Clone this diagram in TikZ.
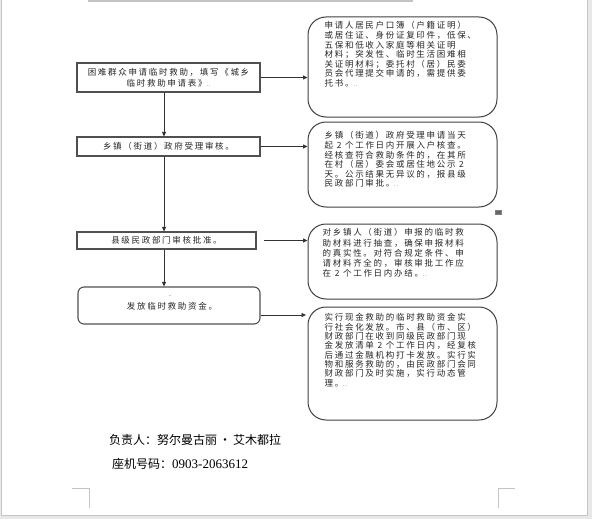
\documentclass[tikz,border=0pt]{standalone}
\usepackage{fontspec}
\setmainfont{Liberation Serif}
\newfontfamily\cjk{Noto Sans CJK SC}
\newfontfamily\cjkls[LetterSpace=20]{Noto Sans CJK SC}
\newfontfamily\digitfont{Liberation Serif}
\usetikzlibrary{arrows.meta}
\definecolor{pagegrey}{HTML}{E8E8E8}
\definecolor{bordergrey}{HTML}{C4C4C4}
\definecolor{boxc}{HTML}{505050}
\definecolor{rboxc}{HTML}{404040}
\definecolor{linec}{HTML}{333333}
\definecolor{txt}{HTML}{262626}
\tikzset{
  lbox/.style={draw=boxc, line width=1.1pt, fill=white, inner sep=0pt, align=center, text=txt,
    font=\cjkls\fontsize{8.5}{11}\selectfont},
  rbox/.style={draw=rboxc, line width=1pt, rounded corners=18pt, inner sep=0pt, fill=white},
  rtext/.style={anchor=north west, inner sep=0pt, align=left, text=txt,
    font=\cjkls\fontsize{8.5}{9.6}\selectfont},
  arr/.style={draw=linec, line width=0.8pt, -{Triangle[length=4.5pt,width=4pt]}},
  tinydots/.style={inner sep=0pt, text=txt, font=\fontsize{5}{5}\selectfont},
  foot/.style={anchor=west, inner sep=0pt, text=black, font=\cjk\fontsize{12}{14}\selectfont},
}
\begin{document}
\begin{tikzpicture}[x=1pt,y=-1pt]
\useasboundingbox (0,0) rectangle (592,519);
% page
\fill[pagegrey] (0,0) rectangle (592,519);
\fill[white] (1.5,0) rectangle (587.5,515.5);
\draw[bordergrey, line width=1pt] (1.5,0) -- (1.5,515.5) -- (587.5,515.5) -- (587.5,0);
\draw[bordergrey, line width=1.5pt] (88,1) -- (413,1);
\draw[bordergrey, line width=0.8pt] (72,488) -- (89,488) -- (89,508);
\draw[bordergrey, line width=0.8pt] (515,488) -- (498,488) -- (498,508);
\coordinate (vx) at (164,0);

% left boxes
\node[lbox, minimum width=183pt, minimum height=29pt] (b1) at (168.5,77.5)
  {困难群众申请临时救助，填写《城乡\\临时救助申请表》{\fontsize{5}{5}\selectfont ..}};
\node[lbox, minimum width=183pt, minimum height=19pt] (b2) at (168.5,146.5)
  {乡镇（街道）政府受理审核。};
\node[lbox, minimum width=179pt, minimum height=17pt] (b3) at (166.5,240.5)
  {县级民政部门审核批准。};
\node[lbox, rounded corners=6pt, minimum width=182pt, minimum height=37pt] (b4) at (169,305.5)
  {};
\node[inner sep=0pt, text=txt, font=\cjkls\fontsize{8.5}{10}\selectfont] (t4) at (172,306) {发放临时救助资金。};
\node[tinydots] (d4) at (170,296) {..};

% right boxes
\node[rbox, minimum width=189pt, minimum height=100pt] (b5) at (402.5,67) {};
\node[rbox, minimum width=189pt, minimum height=85pt] (b6) at (402.5,164.5) {};
\node[rbox, minimum width=189pt, minimum height=75pt] (b7) at (402.5,261.5) {};
\node[rbox, minimum width=189pt, minimum height=113pt] (b8) at (402.5,363.5) {};

\node[rtext] (t5) at ([shift={(17,5)}]b5.north west)
  {申请人居民户口簿（户籍证明）\\或居住证、身份证复印件，低保、\\五保和低收入家庭等相关证明\\材料；突发性、临时生活困难相\\关证明材料；委托村（居）民委\\员会代理提交申请的，需提供委\\托书。{\fontsize{5}{5}\selectfont ..}};
\node[rtext] (t6) at ([shift={(17,10)}]b6.north west)
  {乡镇（街道）政府受理申请当天\\起 2 个工作日内开展入户核查。\\经核查符合救助条件的，在其所\\在村（居）委会或居住地公示 2\\天。公示结果无异议的，报县级\\民政部门审批。{\fontsize{5}{5}\selectfont ..}};
\node[rtext, font=\cjkls\fontsize{8.5}{10.2}\selectfont] (t7) at ([shift={(15,5)}]b7.north west)
  {对乡镇人（街道）申报的临时救\\助材料进行抽查，确保申报材料\\的真实性。对符合规定条件、申\\请材料齐全的，审核审批工作应\\在 2 个工作日内办结。{\fontsize{5}{5}\selectfont ..}};
\node[rtext, font=\cjkls\fontsize{8.5}{9.3}\selectfont] (t8) at ([shift={(17,7)}]b8.north west)
  {实行现金救助的临时救助资金实\\行社会化发放。市、县（市、区）\\财政部门在收到同级民政部门现\\金发放清单 2 个工作日内，经复核\\后通过金融机构打卡发放。实行实\\物和服务救助的，由民政部门会同\\财政部门及时实施，实行动态管\\理。{\fontsize{5}{5}\selectfont ..}};

% vertical connectors
\draw[arr] (b1.south -| vx) -- (b2.north -| vx);
\draw[arr] (b2.south -| vx) -- (b3.north -| vx);
\draw[arr] (b3.south -| vx) -- (b4.north -| vx);

% horizontal connectors
\draw[arr] (b1.east) -- (b1.east -| b5.west);
\draw[arr] (b2.east) -- (b2.east -| b6.west);
\draw[arr] ([shift={(7,0)}]b3.east) -- (b3.east -| b7.west);
\coordinate (c8) at (306,315);
\draw[arr] (b4.east |- c8) -- (c8);

% small mark
\node[draw=gray, fill=gray!80!black, line width=0.4pt, minimum width=6pt, minimum height=4pt, inner sep=0pt] (mk) at (498,212) {};

% footer
\node[foot] (resp) at (109,440) {负责人：努尔曼古丽\,·\,艾木都拉};
\node[foot] (tel) at (112,464) {座机号码：{\digitfont\fontsize{13}{14}\selectfont 0903-2063612}};
\end{tikzpicture}
\end{document}
